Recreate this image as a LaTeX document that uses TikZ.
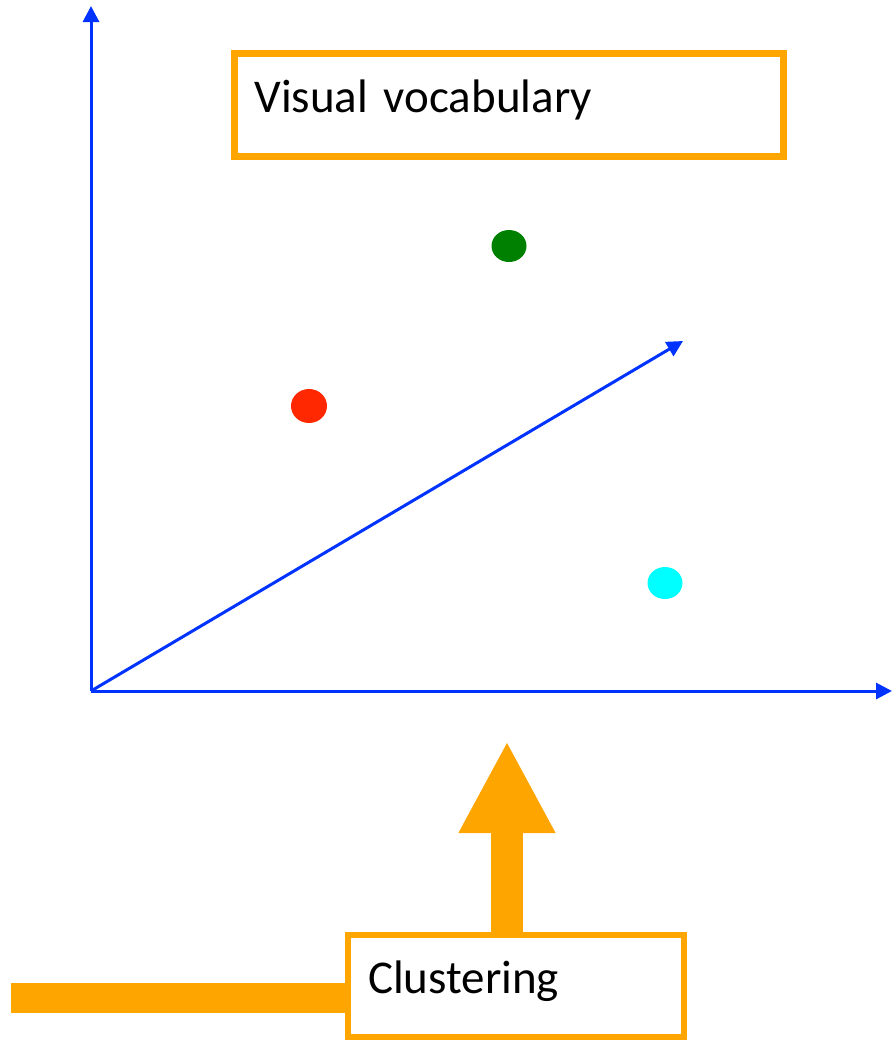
\documentclass[tikz,border=0pt]{standalone}
\usepackage{fontspec}
\setmainfont{Carlito}
\usetikzlibrary{arrows.meta,shapes.geometric,backgrounds}
\definecolor{axisblue}{RGB}{0,51,255}
\definecolor{boxorange}{RGB}{255,165,0}
\definecolor{dotgreen}{RGB}{0,128,0}
\definecolor{dotred}{RGB}{255,40,0}
\definecolor{dotcyan}{RGB}{0,255,255}
\tikzset{
  axis/.style={draw=axisblue, line width=3pt, -{Triangle[length=16pt,width=16pt]}},
  labelbox/.style={draw=boxorange, line width=6.5pt, fill=white, align=left, inner xsep=20pt, inner ysep=0pt, font=\fontsize{47}{55}\selectfont},
  dot/.style={ellipse, inner sep=0pt, draw=none},
  bigarrow/.style={draw=boxorange, line width=32pt, -{Triangle[length=92pt,width=90pt]}},
  bar/.style={draw=boxorange, line width=30pt}
}
\begin{document}
\begin{tikzpicture}[x=1pt,y=-1pt]
\useasboundingbox (0,0) rectangle (895,1045);
\coordinate (o) at (91,691);
\coordinate (ytip) at (91,6);
\coordinate (xtip) at (892,691);
\coordinate (dtip) at (683,341);
\draw[axis] (o) -- (ytip);
\draw[axis] (o) -- (xtip);
\draw[axis] (o) -- (dtip);

\node[labelbox, minimum width=549pt, minimum height=103pt, text width=509pt, text height=34pt, text depth=20pt] (vv) at (509,105) {Visual vocabulary};

\node[dot, fill=dotgreen, minimum width=35pt, minimum height=32pt] (g) at (509,246) {};
\node[dot, fill=dotred, minimum width=36pt, minimum height=34pt] (r) at (309,406) {};
\node[dot, fill=dotcyan, minimum width=35pt, minimum height=32pt] (c) at (665,583) {};

\coordinate (bartail) at (11,998);
\coordinate (uptip) at (507,741);
\node[labelbox, minimum width=336pt, minimum height=102pt, text width=296pt, text height=34pt, text depth=20pt] (clu) at (516,986) {Clustering};
\begin{scope}[on background layer]
\draw[bar] (bartail) -- (bartail -| clu.west);
\draw[bigarrow] (clu.north -| uptip) -- (uptip);
\end{scope}
\end{tikzpicture}
\end{document}
